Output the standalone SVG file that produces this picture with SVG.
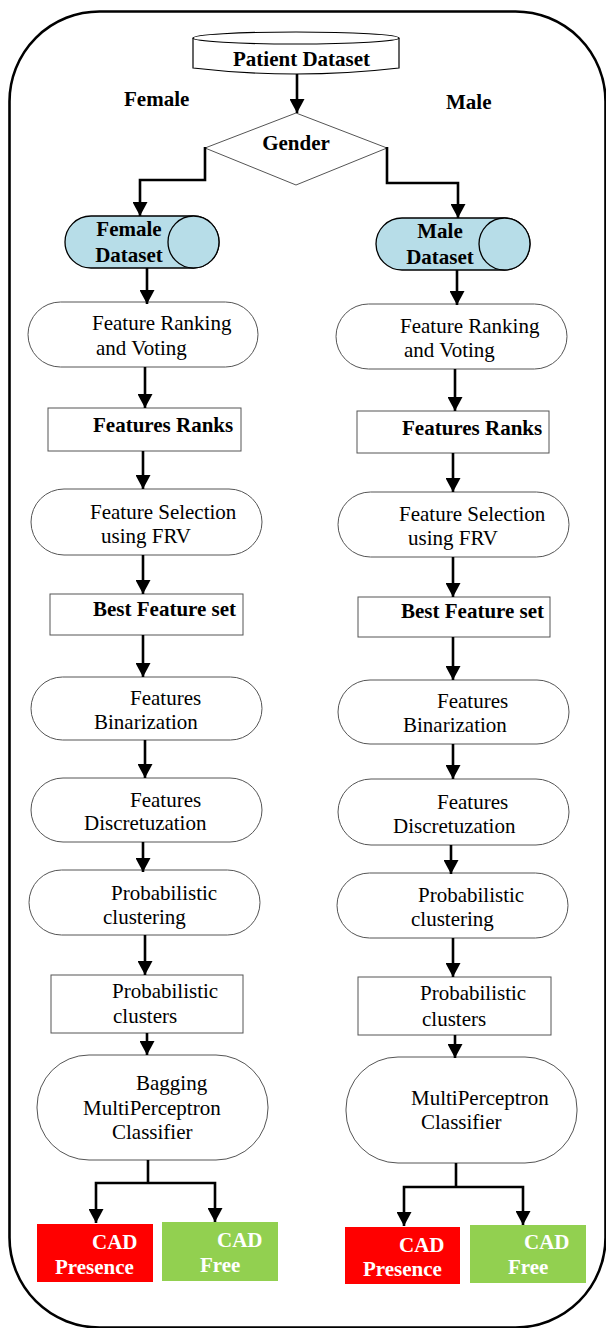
<svg xmlns="http://www.w3.org/2000/svg" width="606" height="1328" viewBox="0 0 606 1328">
<style>
.t{font-family:"Liberation Serif","Times New Roman",serif;font-size:21px;fill:#000}
.b{font-weight:bold}
.w{fill:#fff;font-weight:bold}
.n{fill:#fff;stroke:#555;stroke-width:1}
.ds{fill:#b7dde8;stroke:#000;stroke-width:1.3}
.c{fill:none;stroke:#000;stroke-width:2.6}
.ca{fill:none;stroke:#000;stroke-width:2.6;marker-end:url(#ah)}
</style>
<defs>
<marker id="ah" markerUnits="userSpaceOnUse" markerWidth="15" markerHeight="15" refX="14" refY="7.5" orient="auto" viewBox="0 0 15 15">
<path d="M0,0 L14,7.5 L0,15 z" fill="#000"/>
</marker>
</defs>
<rect x="0" y="0" width="606" height="1328" fill="#fff"/>
<rect id="frame" x="9.5" y="11.5" width="596" height="1316" rx="90" ry="90" fill="none" stroke="#000" stroke-width="2.6"/>

<g id="labels">
<text class="t b" x="124" y="106">Female</text>
<text class="t b" x="446" y="109">Male</text>
</g>

<g id="patient">
<path d="M193,38 L193,68 Q296,80 399,68 L399,38" fill="#fff" stroke="#000" stroke-width="1.2"/>
<ellipse cx="296" cy="38" rx="103" ry="6" fill="#fff" stroke="#000" stroke-width="1.2"/>
<text class="t b" x="233" y="66">Patient Dataset</text>
</g>

<g id="gender">
<polygon points="296,113 387,148 296,185 205,148" fill="#fff" stroke="#555" stroke-width="1"/>
<text class="t b" x="296" y="150" text-anchor="middle">Gender</text>
</g>

<g id="femaleDataset">
<rect class="ds" x="65" y="216" width="154" height="52" rx="26"/>
<ellipse class="ds" cx="193.5" cy="242" rx="25.5" ry="26"/>
<text class="t b" x="129" y="236" text-anchor="middle">Female</text>
<text class="t b" x="129" y="262" text-anchor="middle">Dataset</text>
</g>
<g id="maleDataset">
<rect class="ds" x="376" y="218" width="154" height="52" rx="26"/>
<ellipse class="ds" cx="504.5" cy="244" rx="25.5" ry="26"/>
<text class="t b" x="440" y="238" text-anchor="middle">Male</text>
<text class="t b" x="440" y="264" text-anchor="middle">Dataset</text>
</g>

<g id="fRank">
<rect class="n" x="28" y="302" width="230" height="65" rx="32.5"/>
<text class="t" x="92" y="330">Feature Ranking</text>
<text class="t" x="96" y="355">and Voting</text>
</g>
<g id="mRank">
<rect class="n" x="336" y="304" width="231" height="65" rx="32.5"/>
<text class="t" x="400" y="333">Feature Ranking</text>
<text class="t" x="404" y="357">and Voting</text>
</g>

<g id="fRanks">
<rect class="n" x="48" y="408" width="193" height="43"/>
<text class="t b" x="93" y="432">Features Ranks</text>
</g>
<g id="mRanks">
<rect class="n" x="357" y="411" width="192" height="42"/>
<text class="t b" x="402" y="435">Features Ranks</text>
</g>

<g id="fSel">
<rect class="n" x="31" y="489" width="231" height="66" rx="33"/>
<text class="t" x="90" y="519">Feature Selection</text>
<text class="t" x="101" y="543">using FRV</text>
</g>
<g id="mSel">
<rect class="n" x="338" y="492" width="231" height="65" rx="32.5"/>
<text class="t" x="399" y="521">Feature Selection</text>
<text class="t" x="408" y="545">using FRV</text>
</g>

<g id="fBest">
<rect class="n" x="50" y="594" width="193" height="41"/>
<text class="t b" x="93" y="616">Best Feature set</text>
</g>
<g id="mBest">
<rect class="n" x="358" y="597" width="192" height="40"/>
<text class="t b" x="401" y="618">Best Feature set</text>
</g>

<g id="fBin">
<rect class="n" x="31" y="677" width="231" height="63" rx="31.5"/>
<text class="t" x="130" y="705">Features</text>
<text class="t" x="94" y="729">Binarization</text>
</g>
<g id="mBin">
<rect class="n" x="338" y="680" width="231" height="64" rx="32"/>
<text class="t" x="437" y="708">Features</text>
<text class="t" x="403" y="732">Binarization</text>
</g>

<g id="fDisc">
<rect class="n" x="31" y="778" width="231" height="64" rx="32"/>
<text class="t" x="130" y="807">Features</text>
<text class="t" x="84" y="830">Discretuzation</text>
</g>
<g id="mDisc">
<rect class="n" x="338" y="779" width="231" height="66" rx="33"/>
<text class="t" x="437" y="809">Features</text>
<text class="t" x="393" y="833">Discretuzation</text>
</g>

<g id="fClus">
<rect class="n" x="29" y="870" width="231" height="65" rx="32.5"/>
<text class="t" x="111" y="900">Probabilistic</text>
<text class="t" x="103" y="924">clustering</text>
</g>
<g id="mClus">
<rect class="n" x="337" y="873" width="231" height="65" rx="32.5"/>
<text class="t" x="418" y="902">Probabilistic</text>
<text class="t" x="411" y="926">clustering</text>
</g>

<g id="fClusters">
<rect class="n" x="51" y="975" width="192" height="58"/>
<text class="t" x="112" y="998">Probabilistic</text>
<text class="t" x="113" y="1023">clusters</text>
</g>
<g id="mClusters">
<rect class="n" x="358" y="977" width="193" height="58"/>
<text class="t" x="420" y="1000">Probabilistic</text>
<text class="t" x="422" y="1026">clusters</text>
</g>

<g id="fClassifier">
<rect class="n" x="37" y="1055" width="231" height="105" rx="52"/>
<text class="t" x="136" y="1090">Bagging</text>
<text class="t" x="83" y="1115">MultiPerceptron</text>
<text class="t" x="112" y="1139">Classifier</text>
</g>
<g id="mClassifier">
<rect class="n" x="346" y="1057" width="231" height="106" rx="52"/>
<text class="t" x="411" y="1105">MultiPerceptron</text>
<text class="t" x="421" y="1129">Classifier</text>
</g>

<g id="fPresence">
<rect x="37" y="1224" width="116" height="58" fill="#ff0000"/>
<text class="t w" x="92" y="1249">CAD</text>
<text class="t w" x="55" y="1274">Presence</text>
</g>
<g id="fFree">
<rect x="162" y="1222" width="116" height="59" fill="#92d050"/>
<text class="t w" x="217" y="1247">CAD</text>
<text class="t w" x="200" y="1272">Free</text>
</g>
<g id="mPresence">
<rect x="345" y="1227" width="115" height="57" fill="#ff0000"/>
<text class="t w" x="399" y="1252">CAD</text>
<text class="t w" x="363" y="1276">Presence</text>
</g>
<g id="mFree">
<rect x="470" y="1225" width="116" height="58" fill="#92d050"/>
<text class="t w" x="524" y="1249">CAD</text>
<text class="t w" x="508" y="1274">Free</text>
</g>

<g id="connectors">
<line class="ca" x1="297" y1="74" x2="297" y2="113"/>
<polyline class="ca" points="205,147 205,180 140,180 140,216"/>
<polyline class="ca" points="387,147 387,183 458,183 458,218"/>

<line class="ca" x1="147" y1="268" x2="147" y2="304"/>
<line class="ca" x1="145" y1="367" x2="145" y2="408"/>
<line class="ca" x1="143" y1="451" x2="143" y2="489"/>
<line class="ca" x1="143" y1="555" x2="143" y2="594"/>
<line class="ca" x1="143" y1="635" x2="143" y2="677"/>
<line class="ca" x1="145" y1="740" x2="145" y2="778"/>
<line class="ca" x1="143" y1="842" x2="143" y2="872"/>
<line class="ca" x1="145" y1="935" x2="145" y2="975"/>
<line class="ca" x1="147" y1="1033" x2="147" y2="1055"/>
<polyline class="c" points="148,1160 148,1183"/>
<polyline class="ca" points="148,1183 96,1183 96,1223"/>
<polyline class="ca" points="148,1183 215,1183 215,1222"/>

<line class="ca" x1="457" y1="270" x2="457" y2="305"/>
<line class="ca" x1="455" y1="369" x2="455" y2="411"/>
<line class="ca" x1="453" y1="453" x2="453" y2="492"/>
<line class="ca" x1="453" y1="557" x2="453" y2="597"/>
<line class="ca" x1="453" y1="637" x2="453" y2="680"/>
<line class="ca" x1="453" y1="744" x2="453" y2="779"/>
<line class="ca" x1="451" y1="845" x2="451" y2="874"/>
<line class="ca" x1="453" y1="938" x2="453" y2="977"/>
<line class="ca" x1="455" y1="1035" x2="455" y2="1058"/>
<polyline class="c" points="456,1163 456,1187"/>
<polyline class="ca" points="456,1187 404,1187 404,1226"/>
<polyline class="ca" points="456,1187 523,1187 523,1225"/>
</g>
</svg>
